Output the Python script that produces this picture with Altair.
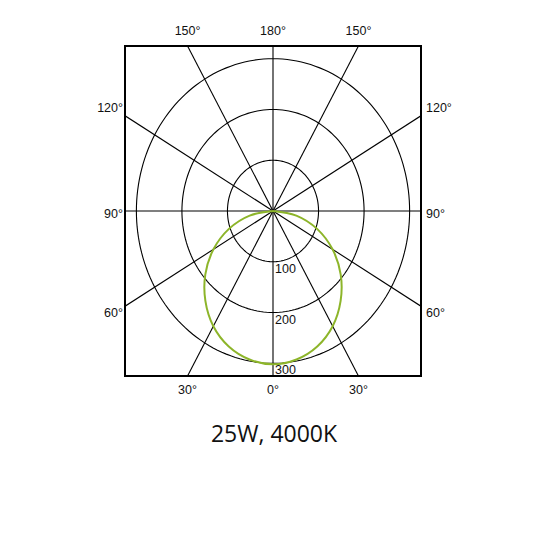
import numpy as np
import pandas as pd
import altair as alt

# Read values: luminous intensity (cd/klm) vs angle from nadir
angles = [-90, -80, -70, -60, -50, -40, -30, -20, -10, 0, 10, 20, 30, 40, 50, 60, 70, 80, 90]
intensity = [0, 52, 103, 151, 194, 231, 262, 284, 297, 302, 297, 284, 262, 231, 194, 151, 103, 52, 0]

ring_values = [100, 200, 300]
spoke_angles = [0, 30, 60, 90, 120, 150, 180, 210, 240, 270, 300, 330]
title_text = "25W, 4000K"

LIM = 325
FS = 12.5
GRID = "#000000"

cur = pd.DataFrame({"a": angles, "r": intensity})
cur["x"] = cur["r"] * np.sin(np.radians(cur["a"]))
cur["y"] = -cur["r"] * np.cos(np.radians(cur["a"]))
cur["k"] = range(len(cur))

rows = []
for r in ring_values:
    for k, t in enumerate(range(0, 361, 2)):
        rows.append({"r": r, "k": k, "x": r * np.sin(np.radians(t)), "y": r * np.cos(np.radians(t))})
rings = pd.DataFrame(rows)

sp = pd.DataFrame({"a": spoke_angles})
sp["x0"] = 0.0
sp["y0"] = 0.0
sp["x1"] = 600 * np.sin(np.radians(sp["a"]))
sp["y1"] = -600 * np.cos(np.radians(sp["a"]))

t30 = LIM * np.tan(np.radians(30))
labels = pd.DataFrame([
    {"t": "150°", "x": -t30, "y": LIM, "dy": -11},
    {"t": "180°", "x": 0, "y": LIM, "dy": -11},
    {"t": "150°", "x": t30, "y": LIM, "dy": -11},
    {"t": "30°", "x": -t30, "y": -LIM, "dy": 18},
    {"t": "0°", "x": 0, "y": -LIM, "dy": 18},
    {"t": "30°", "x": t30, "y": -LIM, "dy": 18},
])
side = pd.DataFrame([
    {"t": "120°", "y": t30, "dy": -3.5},
    {"t": "90°", "y": 0, "dy": 7.3},
    {"t": "60°", "y": -t30, "dy": 10.6},
])

xs = alt.Scale(domain=[-LIM, LIM], nice=False, zero=False)
ys = alt.Scale(domain=[-LIM, LIM], nice=False, zero=False)

spokes = alt.Chart(sp).mark_rule(color=GRID, strokeWidth=1.1, clip=True).encode(
    x=alt.X("x0:Q", scale=xs, axis=None), y=alt.Y("y0:Q", scale=ys, axis=None),
    x2="x1:Q", y2="y1:Q")

ring_layer = alt.Chart(rings).mark_line(color=GRID, strokeWidth=1.1, clip=True).encode(
    x=alt.X("x:Q", scale=xs, axis=None), y=alt.Y("y:Q", scale=ys, axis=None),
    detail="r:N", order="k:Q")

curve = alt.Chart(cur).mark_line(color="#8db52a", strokeWidth=2, interpolate="cardinal").encode(
    x=alt.X("x:Q", scale=xs, axis=None), y=alt.Y("y:Q", scale=ys, axis=None), order="k:Q")

lab_tb = []
for _, row in labels.iterrows():
    lab_tb.append(alt.Chart(pd.DataFrame([row])).mark_text(font="Liberation Sans", fontSize=FS, color="#111",
        align="center", dy=row["dy"], baseline="alphabetic").encode(
        x=alt.X("x:Q", scale=xs, axis=None), y=alt.Y("y:Q", scale=ys, axis=None), text="t:N"))

side_layers = []
for _, row in side.iterrows():
    d = pd.DataFrame([{"t": row["t"], "y": row["y"], "xl": -LIM, "xr": LIM}])
    side_layers.append(alt.Chart(d).mark_text(font="Liberation Sans", fontSize=FS, color="#111",
        align="right", dx=-2, dy=row["dy"], baseline="alphabetic").encode(
        x=alt.X("xl:Q", scale=xs, axis=None), y=alt.Y("y:Q", scale=ys, axis=None), text="t:N"))
    side_layers.append(alt.Chart(d).mark_text(font="Liberation Sans", fontSize=FS, color="#111",
        align="left", dx=5, dy=row["dy"], baseline="alphabetic").encode(
        x=alt.X("xr:Q", scale=xs, axis=None), y=alt.Y("y:Q", scale=ys, axis=None), text="t:N"))

rad = pd.DataFrame({"t": [str(v) for v in ring_values], "v": ring_values})
rad["x"] = 0
rad["y"] = -rad["v"]
radial = alt.Chart(rad).mark_text(font="Liberation Sans", fontSize=FS, color="#111",
    align="left", dx=2, dy=11, baseline="alphabetic").encode(
    x=alt.X("x:Q", scale=xs, axis=None), y=alt.Y("y:Q", scale=ys, axis=None), text="t:N")

ttl = pd.DataFrame({"t": [title_text], "x": [0], "y": [-LIM]})
title = alt.Chart(ttl).mark_text(font="Open Sans", fontSize=23, color="#111",
    align="center", dx=1, dy=66, baseline="alphabetic").encode(
    x=alt.X("x:Q", scale=xs, axis=None), y=alt.Y("y:Q", scale=ys, axis=None), text="t:N")

chart = alt.layer(spokes, ring_layer, curve, radial, *lab_tb, *side_layers, title).properties(
    width=296, height=330,
    autosize=alt.AutoSizeParams(type="none"),
    padding={"left": 117, "top": 38, "right": 121, "bottom": 166},
).configure_view(stroke="black", strokeWidth=2)

chart.save("out.html", embed_options={"renderer": "svg", "actions": False})
